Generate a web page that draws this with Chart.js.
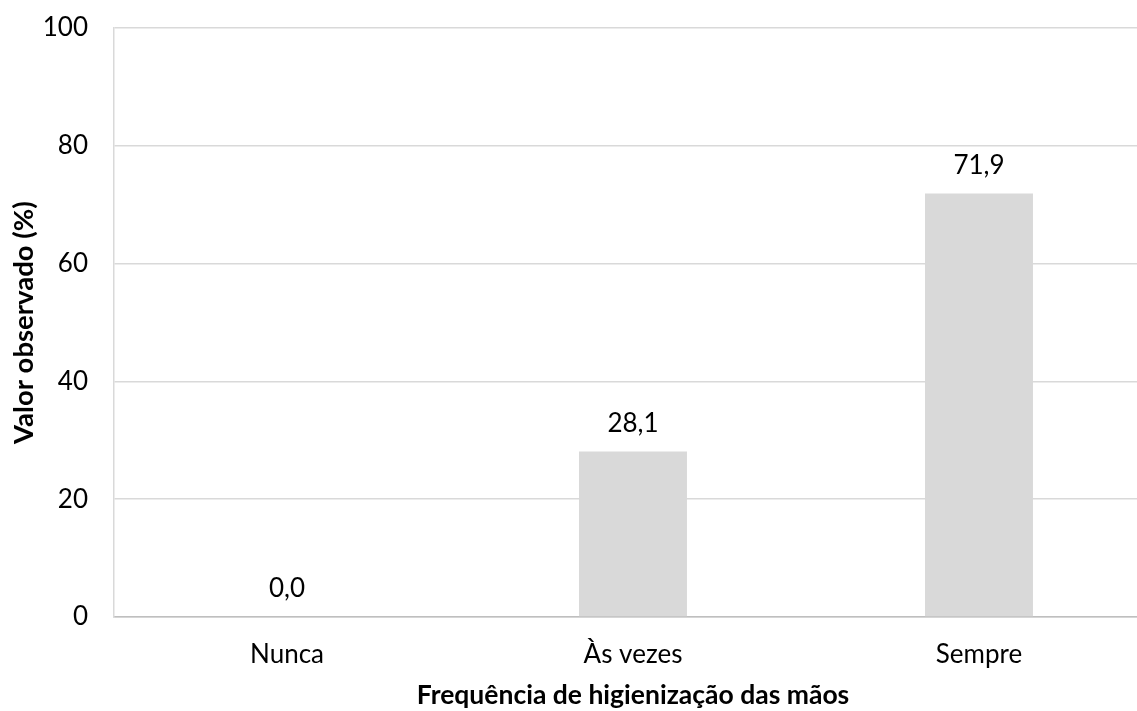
<!DOCTYPE html>
<html>
<head>
<meta charset="utf-8">
<script src="https://cdn.jsdelivr.net/npm/chart.js@4/dist/chart.umd.min.js"></script>
<style>
  html, body { margin: 0; padding: 0; background: #fff; overflow: hidden; }
  #wrap { width: 1137px; height: 711px; overflow: hidden; position: relative; }
  canvas { display: block; }
</style>
</head>
<body>
<div id="wrap"><canvas id="c" width="1160" height="711" style="width:1160px;height:711px"></canvas></div>
<script>
const categories = ["Nunca", "Às vezes", "Sempre"];
const values = [0.0, 28.1, 71.9];
const yTicks = [0, 20, 40, 60, 80, 100];
const xTitle = "Frequência de higienização das mãos";
const yTitle = "Valor observado (%)";

const FONT = "Lato, 'Open Sans', sans-serif";

const labelPlugin = {
  id: 'valueLabels',
  afterDatasetsDraw(chart) {
    const ctx = chart.ctx;
    const meta = chart.getDatasetMeta(0);
    ctx.save();
    ctx.font = "26px " + FONT;
    ctx.fillStyle = "#000";
    ctx.textAlign = "center";
    ctx.textBaseline = "middle";
    meta.data.forEach((bar, i) => {
      const txt = values[i].toFixed(1).replace('.', ',');
      ctx.fillText(txt, bar.x, bar.y - 28);
    });
    ctx.restore();
  }
};

new Chart(document.getElementById('c'), {
  type: 'bar',
  data: {
    labels: categories,
    datasets: [{
      data: values,
      backgroundColor: '#d9d9d9',
      borderWidth: 0,
      categoryPercentage: 1.0,
      barPercentage: 0.312
    }]
  },
  options: {
    responsive: false,
    animation: false,
    devicePixelRatio: 1,
    layout: { padding: { left: 0, right: 8, top: 28, bottom: 0 } },
    plugins: {
      legend: { display: false },
      tooltip: { enabled: false }
    },
    scales: {
      x: {
        grid: { display: false, drawTicks: false },
        border: { display: true, color: '#bfbfbf', width: 1.5 },
        ticks: { color: '#000', font: { family: FONT, size: 26 }, padding: 22, maxRotation: 0 },
        title: { display: true, text: xTitle, color: '#000', font: { family: FONT, size: 26.5, weight: 'bold' }, padding: { top: 4, bottom: 0 } },
        afterFit(scale) { scale.height = 711 - 617; }
      },
      y: {
        min: 0, max: 100,
        afterBuildTicks(scale) { scale.ticks = yTicks.map(v => ({ value: v })); },
        grid: { color: '#d9d9d9', lineWidth: 1.5, drawTicks: false },
        border: { display: true, color: '#d9d9d9', width: 1.5 },
        ticks: { color: '#000', font: { family: FONT, size: 26 }, padding: 26 },
        title: { display: true, text: yTitle, color: '#000', font: { family: FONT, size: 27.5, weight: 'bold' }, padding: { top: 8, bottom: 0 } },
        afterFit(scale) { scale.width = 114; scale.paddingTop = 0; }
      }
    }
  },
  plugins: [labelPlugin, {
    id: 'fixTop',
    beforeLayout(chart) {}
  }]
});
</script>
</body>
</html>
